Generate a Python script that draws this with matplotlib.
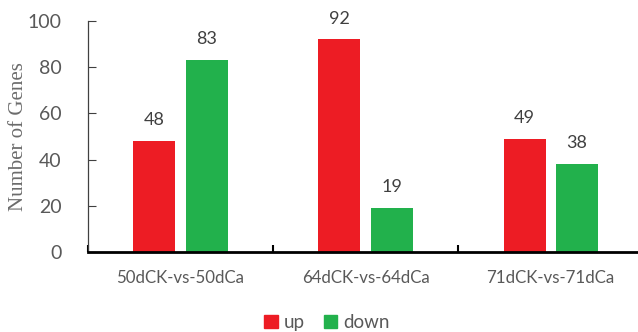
import matplotlib
matplotlib.use("Agg")
import matplotlib.pyplot as plt
import numpy as np
from matplotlib.patches import Patch

categories = ["50dCK-vs-50dCa", "64dCK-vs-64dCa", "71dCK-vs-71dCa"]
up = [48, 92, 49]
down = [83, 19, 38]
series_names = ["up", "down"]
yticks = [0, 20, 40, 60, 80, 100]

red = "#ED1C24"
green = "#22B14C"
text_gray = "#595959"
sans = ["Lato", "DejaVu Sans"]

fig = plt.figure(figsize=(6.38, 3.32), dpi=100)
ax = fig.add_axes([0.138, 0.241, 0.870, 0.696])

x = np.arange(len(categories))
w = 0.227
off = 0.141
b1 = ax.bar(x - off, up, width=w, color=red, label=series_names[0])
b2 = ax.bar(x + off, down, width=w, color=green, label=series_names[1])

for bars, vals in ((b1, up), (b2, down)):
    for rect, v in zip(bars, vals):
        ax.text(rect.get_x() + rect.get_width() / 2, v + 5.5, str(v),
                ha="center", va="bottom", fontsize=13, color="#404040",
                family=sans)

ax.set_xlim(-0.5, len(categories) - 0.5)
ax.set_ylim(0, 100)
ax.set_yticks(yticks)
ax.set_yticklabels([str(t) for t in yticks], family=sans, fontsize=14,
                   color=text_gray)
ax.set_xticks(x)
ax.set_xticklabels(categories, family=sans, fontsize=12.2, color=text_gray)
ax.tick_params(axis="x", length=0, pad=13)
ax.set_xticks(np.arange(len(categories) + 1) - 0.5, minor=True)
ax.tick_params(axis="x", which="minor", direction="in", length=5, width=1.5,
               color="black")
ax.tick_params(axis="y", direction="in", length=6, width=0.8,
               color="#404040", pad=19)

for s in ("top", "right"):
    ax.spines[s].set_visible(False)
ax.spines["left"].set_color("#404040")
ax.spines["left"].set_linewidth(0.9)
ax.spines["bottom"].set_color("black")
ax.spines["bottom"].set_linewidth(2)

ax.set_ylabel("Number of Genes", family=["Liberation Serif"], fontsize=15,
              color="#6b6b6b")
ax.yaxis.set_label_coords(-0.108, 0.5)

handles = [Patch(color=red), Patch(color=green)]
fig.legend(handles, series_names, loc="center", bbox_to_anchor=(0.513, 0.028),
           ncol=2, frameon=False, prop={"family": sans, "size": 13.5},
           handlelength=0.7, handleheight=0.7, handletextpad=0.35,
           columnspacing=1.0, labelcolor=text_gray)

fig.savefig("out.png", dpi=100)
